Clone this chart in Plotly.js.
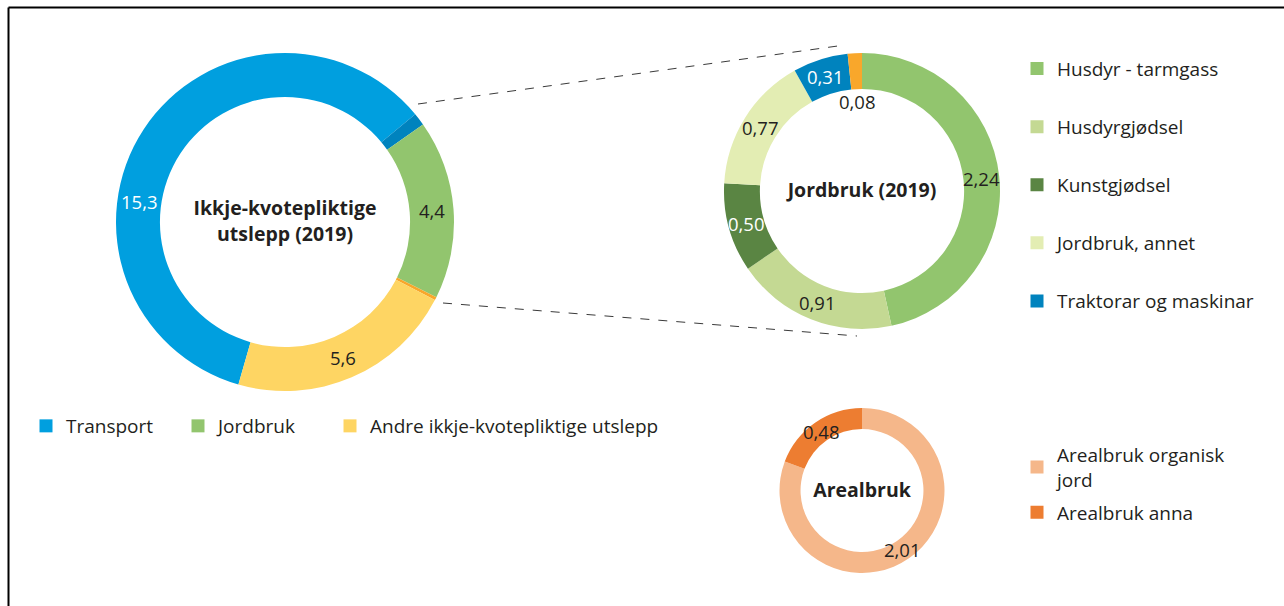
<!DOCTYPE html>
<html>
<head>
<meta charset="utf-8">
<script src="https://cdn.plot.ly/plotly-3.0.1.min.js"></script>
<style>html,body{margin:0;padding:0;background:#fff}#chart{width:1284px;height:606px}</style>
</head>
<body>
<div id="chart"></div>
<script>
// ---- data ----
const mainLabels = ['Transport', 'Traktorar og maskinar', 'Jordbruk', 'Jordbruk (andre)', 'Andre ikkje-kvotepliktige utslepp'];
const mainValues = [15.3, 0.31, 4.4, 0.08, 5.6];
const mainText = ['15,3', '', '4,4', '', '5,6'];
const mainTextColors = ['#FFFFFF', '#231F20', '#231F20', '#231F20', '#231F20'];
const mainColors = ['#009FDF', '#0083BE', '#92C56E', '#F9A72B', '#FED563'];
const mainLegendLabels = ['Transport', 'Jordbruk', 'Andre ikkje-kvotepliktige utslepp'];
const mainLegendColors = ['#009FDF', '#92C56E', '#FED563'];

const jordLabels = ['Husdyr - tarmgass', 'Husdyrgjødsel', 'Kunstgjødsel', 'Jordbruk, annet', 'Traktorar og maskinar', 'Anna'];
const jordValues = [2.24, 0.91, 0.50, 0.77, 0.31, 0.08];
const jordText = ['2,24', '0,91', '0,50', '0,77', '0,31', '0,08'];
const jordColors = ['#92C56E', '#C4D993', '#5A8543', '#E3EDB3', '#0083BE', '#F9A72B'];
const jordTextColors = ['#231F20', '#231F20', '#FFFFFF', '#231F20', '#FFFFFF', '#231F20'];
const jordLegendCount = 5;

const arealLabels = ['Arealbruk organisk<br>jord', 'Arealbruk anna'];
const arealValues = [2.01, 0.48];
const arealText = ['2,01', '0,48'];
const arealTextColors = ['#231F20', '#231F20'];
const arealColors = ['#F5B78A', '#ED7D31'];

// ---- helpers ----
const W = 1284, H = 606;
const px = x => x / W;
const py = y => 1 - y / H;
const FONT = '"Open Sans", "Noto Sans", sans-serif';
const TXT = '#231F20';

const mainDom = {x: [px(116), px(454)], y: [py(391), py(53)]};
const jordDom = {x: [px(724), px(1000)], y: [py(329), py(53)]};
const arealDom = {x: [px(779.5), px(944.5)], y: [py(573), py(408)]};
const mainRot = 196;
const HOLE_MAIN = 0.74, HOLE_JORD = 0.74, HOLE_AREAL = 0.745;

function pie(values, labels, colors, dom, hole, rot, title) {
  return {
    type: 'pie', values: values, labels: labels, domain: dom,
    hole: hole, sort: false, direction: 'clockwise', rotation: rot,
    marker: {colors: colors, line: {width: 0}},
    textinfo: 'none', showlegend: false, hoverinfo: 'label+value',
    title: {text: '<b>' + title + '</b>', position: 'middle center', font: {family: FONT, size: 19.5, color: TXT}}
  };
}
const traces = [
  pie(mainValues, mainLabels, mainColors, mainDom, HOLE_MAIN, mainRot, 'Ikkje-kvotepliktige<br>utslepp (2019)'),
  pie(jordValues, jordLabels, jordColors, jordDom, HOLE_JORD, 0, 'Jordbruk (2019)'),
  pie(arealValues, arealLabels, arealColors, arealDom, HOLE_AREAL, 0, 'Arealbruk')
];

// legend entries
function legendEntry(name, color, legend, group) {
  return {type: 'scatter', mode: 'markers', x: [null], y: [null], name: name,
    marker: {symbol: 'square', size: 13, color: color, line: {width: 0}},
    legend: legend, legendgroup: group, showlegend: true, hoverinfo: 'skip'};
}
const mainLegendIds = ['legend', 'legend4', 'legend5'];
mainLegendLabels.forEach((l, i) => traces.push(legendEntry(l, mainLegendColors[i], mainLegendIds[i], 'm' + i)));
for (let i = 0; i < jordLegendCount; i++) traces.push(legendEntry(jordLabels[i], jordColors[i], 'legend2', 'j' + i));
arealLabels.forEach((l, i) => traces.push(legendEntry(l, arealColors[i], 'legend3', 'a' + i)));

// slice labels, placed from the data (slice mid-angles)
function polarToPaper(dom, angDeg, frac) {
  const x0 = dom.x[0] * W, x1 = dom.x[1] * W;
  const y0 = (1 - dom.y[1]) * H, y1 = (1 - dom.y[0]) * H;
  const cx = (x0 + x1) / 2, cy = (y0 + y1) / 2, r = (x1 - x0) / 2;
  const a = angDeg * Math.PI / 180;
  return {x: px(cx + r * frac * Math.sin(a)), y: py(cy - r * frac * Math.cos(a))};
}
function sliceAngles(values, rot) {
  const tot = values.reduce((a, b) => a + b, 0);
  let acc = 0;
  return values.map(v => { const s = rot + acc / tot * 360; acc += v; const e = rot + acc / tot * 360; return [s, e]; });
}
const annotations = [];
function addLabels(values, texts, colors, dom, hole, rot, special) {
  const angs = sliceAngles(values, rot);
  texts.forEach((t, i) => {
    if (!t) return;
    let mid = (angs[i][0] + angs[i][1]) / 2;
    let frac = (1 + hole) / 2;
    if (special && special[i]) { const s = special[i](angs[i]); mid = s.ang; frac = s.frac !== undefined ? s.frac : frac; }
    const p = polarToPaper(dom, mid, frac);
    annotations.push({x: p.x, y: p.y, xref: 'paper', yref: 'paper', xanchor: 'center', yanchor: 'middle',
      text: t, showarrow: false, font: {family: FONT, size: 18.5, color: colors[i]}});
  });
}
// Transport label sits in the middle of the part of its slice before 12 o'clock
addLabels(mainValues, mainText, mainTextColors, mainDom, HOLE_MAIN, mainRot,
  {0: a => ({ang: (a[0] + 360) / 2})});
// the smallest Jordbruk slice has its label inside the hole
addLabels(jordValues, jordText, jordTextColors, jordDom, HOLE_JORD, 0,
  {5: a => ({ang: (a[0] + a[1]) / 2, frac: HOLE_JORD - 0.09})});
addLabels(arealValues, arealText, arealTextColors, arealDom, HOLE_AREAL, 0);

const dashLine = {type: 'line', xref: 'paper', yref: 'paper', line: {color: '#3A3A3A', width: 1, dash: 'dash'}};
const shapes = [
  Object.assign({}, dashLine, {x0: px(418), y0: py(104), x1: px(845), y1: py(45)}),
  Object.assign({}, dashLine, {x0: px(443), y0: py(303), x1: px(857), y1: py(336)}),
  {type: 'line', xref: 'paper', yref: 'paper', x0: px(8.5), y0: py(7.5), x1: px(8.5), y1: py(620), line: {color: '#000', width: 2}},
  {type: 'line', xref: 'paper', yref: 'paper', x0: px(8.5), y0: py(7.5), x1: px(1300), y1: py(7.5), line: {color: '#000', width: 2}}
];

const legFont = {family: FONT, size: 19, color: TXT};
const hLeg = x => ({orientation: 'v', x: px(x), y: py(407), xanchor: 'left', yanchor: 'top', font: legFont, bgcolor: 'rgba(0,0,0,0)'});
const layout = {
  width: W, height: H,
  margin: {l: 0, r: 0, t: 0, b: 0},
  paper_bgcolor: '#fff', plot_bgcolor: 'rgba(0,0,0,0)',
  xaxis: {visible: false}, yaxis: {visible: false},
  showlegend: true,
  legend: hLeg(26),
  legend4: hLeg(178),
  legend5: hLeg(330),
  legend2: {orientation: 'v', x: px(1017), y: py(49.7), xanchor: 'left', yanchor: 'top', font: legFont,
    tracegroupgap: 30.4, bgcolor: 'rgba(0,0,0,0)'},
  legend3: {orientation: 'v', x: px(1017), y: py(435.7), xanchor: 'left', yanchor: 'top', font: legFont,
    tracegroupgap: 5.4, bgcolor: 'rgba(0,0,0,0)'},
  annotations: annotations,
  shapes: shapes
};

Plotly.newPlot('chart', traces, layout, {displayModeBar: false, staticPlot: true});
</script>
</body>
</html>
